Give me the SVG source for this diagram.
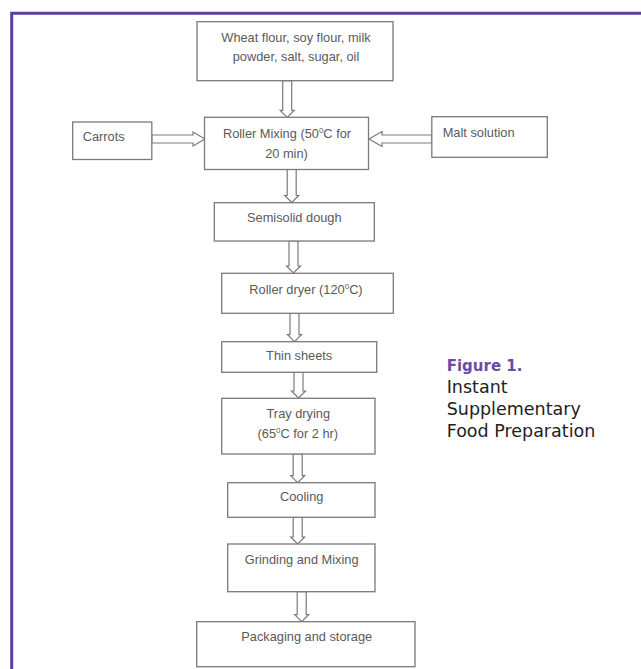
<svg xmlns="http://www.w3.org/2000/svg" width="641" height="669" viewBox="0 0 641 669">
<style>
.box{fill:#fff;stroke:#7a7a7a;stroke-width:1.3}
.t{font-family:"Liberation Sans",Arial,sans-serif;font-size:12.8px;fill:#5a5a5a;text-anchor:middle}
.tl{text-anchor:start}
.ar{fill:#fff;stroke:#7a7a7a;stroke-width:1.2;stroke-linejoin:miter}
.cap{font-family:"DejaVu Sans",Verdana,sans-serif;font-size:17.5px;fill:#222}
.fig{font-family:"DejaVu Sans",Verdana,sans-serif;font-size:15px;font-weight:bold;fill:#6a4ba8}
</style>
<rect x="0" y="0" width="641" height="669" fill="#fff"/>
<path d="M11.7 669 V13.2 H641" fill="none" stroke="#5b3f98" stroke-width="3"/>

<g id="connectors">
<path class="ar" d="M282.7 80.7 H291.7 V110.3 H294.2 L287.2 117.3 L280.2 110.3 H282.7 Z"/>
<path class="ar" d="M287.2 169.5 H296.2 V195.5 H298.7 L291.7 202.5 L284.7 195.5 H287.2 Z"/>
<path class="ar" d="M289 241 H298 V266 H300.5 L293.5 273 L286.5 266 H289 Z"/>
<path class="ar" d="M290 313.3 H299 V334.7 H301.5 L294.5 341.7 L287.5 334.7 H290 Z"/>
<path class="ar" d="M294 372.3 H303 V391 H305.5 L298.5 398 L291.5 391 H294 Z"/>
<path class="ar" d="M293.2 454 H302.2 V475.7 H304.7 L297.7 482.7 L290.7 475.7 H293.2 Z"/>
<path class="ar" d="M293.2 517.3 H302.2 V537 H304.7 L297.7 544 L290.7 537 H293.2 Z"/>
<path class="ar" d="M297.2 591.7 H306.2 V614.7 H308.7 L301.7 621.7 L294.7 614.7 H297.2 Z"/>
<path class="ar" d="M151.8 135 V143 H193 V146 L205 139 L193 132 V135 Z"/>
<path class="ar" d="M431.8 135 V143 H382 V146.5 L369 139 L382 131.5 V135 Z"/>
</g>

<g id="n-ingredients">
<rect class="box" x="197" y="21.7" width="196" height="59"/>
<text class="t" x="296" y="41.5">Wheat flour, soy flour, milk</text>
<text class="t" x="296" y="60.5">powder, salt, sugar, oil</text>
</g>
<g id="n-roller-mixing">
<rect class="box" x="204.5" y="117.3" width="164" height="52.2"/>
<text class="t" x="287" y="138">Roller Mixing (50<tspan dy="-5" font-size="8">0</tspan><tspan dy="5">C for</tspan></text>
<text class="t" x="286.5" y="157.5">20 min)</text>
</g>
<g id="n-carrots">
<rect class="box" x="72.7" y="122" width="79.1" height="37.5"/>
<text class="t tl" x="82.7" y="140.8">Carrots</text>
</g>
<g id="n-malt">
<rect class="box" x="431.8" y="116.7" width="115.5" height="40.6"/>
<text class="t tl" x="442.7" y="137">Malt solution</text>
</g>
<g id="n-semisolid">
<rect class="box" x="214.3" y="202.7" width="160" height="38.3"/>
<text class="t" x="294.3" y="221.8">Semisolid dough</text>
</g>
<g id="n-roller-dryer">
<rect class="box" x="221.7" y="273.3" width="171.6" height="40"/>
<text class="t" x="306" y="293.5">Roller dryer (120<tspan dy="-5" font-size="8">0</tspan><tspan dy="5">C)</tspan></text>
</g>
<g id="n-thin-sheets">
<rect class="box" x="221.7" y="341.7" width="155" height="30.6"/>
<text class="t" x="299.2" y="360">Thin sheets</text>
</g>
<g id="n-tray-drying">
<rect class="box" x="221.7" y="398.3" width="153.3" height="55.7"/>
<text class="t" x="298.3" y="417.8">Tray drying</text>
<text class="t" x="297.8" y="437.8">(65<tspan dy="-5" font-size="8">0</tspan><tspan dy="5">C for 2 hr)</tspan></text>
</g>
<g id="n-cooling">
<rect class="box" x="227.7" y="482.7" width="147.3" height="34.6"/>
<text class="t" x="301.7" y="501">Cooling</text>
</g>
<g id="n-grinding">
<rect class="box" x="227.7" y="544" width="147.3" height="47.7"/>
<text class="t" x="301.7" y="563.8">Grinding and Mixing</text>
</g>
<g id="n-packaging">
<rect class="box" x="196.7" y="621.7" width="218.3" height="45"/>
<text class="t" x="306.7" y="641">Packaging and storage</text>
</g>

<g id="caption">
<text class="fig" x="446.7" y="371">Figure 1.</text>
<text class="cap" x="446.7" y="393.3">Instant</text>
<text class="cap" x="446.7" y="415">Supplementary</text>
<text class="cap" x="446.7" y="436.7">Food Preparation</text>
</g>
</svg>
